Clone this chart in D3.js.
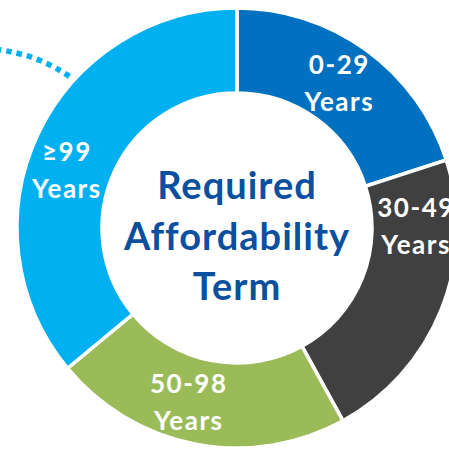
<!DOCTYPE html>
<html>
<head>
<meta charset="utf-8">
<script src="https://cdn.jsdelivr.net/npm/d3@7"></script>
<style>
  html, body { margin: 0; padding: 0; background: #fff; }
  svg { display: block; }
</style>
</head>
<body>
<svg id="chart" width="449" height="449"></svg>
<script>
// Share of items by required affordability term (percent)
const categories = ["0-29", "30-49", "50-98", "\u226599"];
const shares = [20, 22, 22, 36];
const unitLabel = "Years";
const titleLines = ["Required", "Affordability", "Term"];
const sliceColors = ["#0070C0", "#404040", "#9BBB59", "#00B0F0"];

const W = 449, H = 449;
const cx = 237, cy = 228;
const outerR = 220, innerR = 135;

const svg = d3.select("#chart");
const g = svg.append("g").attr("transform", `translate(${cx},${cy})`);

const pie = d3.pie().sort(null).value(d => d.value);
const arcs = pie(categories.map((c, i) => ({ cat: c, value: shares[i] })));

const arc = d3.arc().innerRadius(innerR).outerRadius(outerR);

// Dotted connector leading into the largest slice
const connector = d3.line().curve(d3.curveBasis);
svg.append("path")
  .attr("d", connector([[-4, 49], [24, 54], [50, 64], [72, 78]]))
  .attr("fill", "none")
  .attr("stroke", sliceColors[3])
  .attr("stroke-width", 5.5)
  .attr("stroke-dasharray", "5.5 5");

g.selectAll("path.slice")
  .data(arcs)
  .join("path")
  .attr("class", "slice")
  .attr("d", arc)
  .attr("fill", (d, i) => sliceColors[i])
  .attr("stroke", "#fff")
  .attr("stroke-width", 3.5)
  .attr("stroke-linejoin", "miter");

// Slice labels: placed from the arc centroid with small per-slice nudges
const nudges = [[-2, 8], [14, -58], [-15, 8.5], [-9.5, 27]];
const label = g.selectAll("g.lbl")
  .data(arcs)
  .join("g")
  .attr("class", "lbl")
  .attr("transform", (d, i) => {
    const [x, y] = arc.centroid(d);
    return `translate(${x + nudges[i][0]},${y + nudges[i][1]})`;
  });

label.append("text")
  .attr("text-anchor", "middle")
  .attr("y", -18)
  .text(d => d.data.cat);
label.append("text")
  .attr("text-anchor", "middle")
  .attr("y", 19)
  .text(unitLabel);

label.selectAll("text")
  .attr("fill", "#fff")
  .attr("font-family", "Lato, 'Open Sans', sans-serif")
  .attr("font-weight", 700)
  .attr("font-size", 26)
  .attr("letter-spacing", 1.5);

// Centre title
const title = g.append("text")
  .attr("text-anchor", "middle")
  .attr("fill", "#0B4F9F")
  .attr("font-family", "Lato, 'Open Sans', sans-serif")
  .attr("font-weight", 700)
  .attr("font-size", 38)
  .attr("letter-spacing", 1);
title.selectAll("tspan")
  .data(titleLines)
  .join("tspan")
  .attr("x", 0)
  .attr("y", (d, i) => -29 + i * 50.5)
  .text(d => d);
</script>
</body>
</html>
